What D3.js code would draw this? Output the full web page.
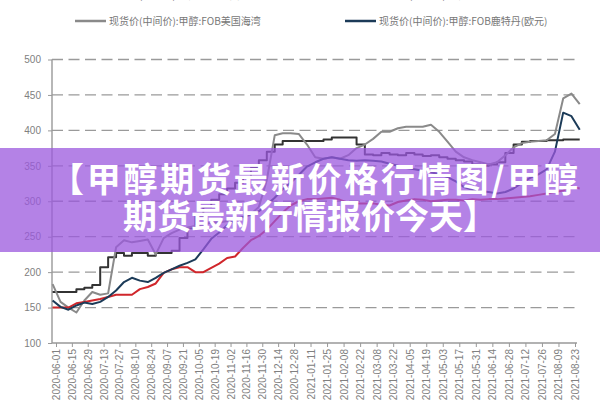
<!DOCTYPE html>
<html><head><meta charset="utf-8">
<script src="https://cdn.jsdelivr.net/npm/d3@7"></script>
<style>html,body{margin:0;padding:0;background:#fff;} svg{display:block;}</style>
</head><body><svg id="c" width="600" height="400"></svg>
<script>
const dates = ["2020-05-29","2020-06-05","2020-06-12","2020-06-19","2020-06-26","2020-07-03","2020-07-10","2020-07-17","2020-07-24","2020-07-31",
"2020-08-07","2020-08-14","2020-08-21","2020-08-28","2020-09-04","2020-09-11","2020-09-18","2020-09-25","2020-10-02","2020-10-09",
"2020-10-16","2020-10-23","2020-10-30","2020-11-06","2020-11-13","2020-11-20","2020-11-27","2020-12-04","2020-12-11","2020-12-18",
"2020-12-25","2021-01-01","2021-01-08","2021-01-15","2021-01-22","2021-01-29","2021-02-05","2021-02-12","2021-02-19","2021-02-26",
"2021-03-05","2021-03-12","2021-03-19","2021-03-26","2021-04-02","2021-04-09","2021-04-16","2021-04-23","2021-04-30","2021-05-07",
"2021-05-14","2021-05-21","2021-05-28","2021-06-04","2021-06-11","2021-06-18","2021-06-25","2021-07-02","2021-07-09","2021-07-16",
"2021-07-23","2021-07-30","2021-08-06","2021-08-13","2021-08-20","2021-08-27"];

const tickLabels = ["2020-06-01","2020-06-15","2020-06-29","2020-07-13","2020-07-27","2020-08-10","2020-08-24","2020-09-07","2020-09-21",
"2020-10-05","2020-10-19","2020-11-02","2020-11-16","2020-11-30","2020-12-14","2020-12-28","2021-01-11","2021-01-25","2021-02-08",
"2021-02-22","2021-03-08","2021-03-22","2021-04-05","2021-04-19","2021-05-03","2021-05-17","2021-05-31","2021-06-14","2021-06-28",
"2021-07-12","2021-07-26","2021-08-09","2021-08-23"];

const yTicks = [100,150,200,250,300,350,400,450,500];

const seriesNames = ["现货价(中间价):甲醇:CFR中国主港","现货价(中间价):甲醇:CFR东南亚","现货价(中间价):甲醇:FOB美国海湾","现货价(中间价):甲醇:FOB鹿特丹(欧元)"];

const blackVals = [172,172,172,176,178,182,207,221,227,223,227,227,223,227,227,230,248,262,280,292,
302,310,318,326,334,347,358,370,380,385,385,385,385,385,387,390,390,390,380,366,
365,368,366,365,368,366,364,365,362,360,358,356,352,350,352,355,368,380,384,385,
385,386,386,387,387,387];

const redVals = [150,150,150,156,158,160,162,165,168,168,168,176,179,184,199,204,207,207,200,200,
206,212,220,222,234,245,251,260,272,284,294,300,303,303,304,305,302,298,297,297,
297,295,294,299,301,303,302,300,301,302,302,301,303,302,303,303,304,305,306,307,
309,311,313,315,321,318];

const grayVals = [183,158,150,143,160,172,168,170,235,245,242,244,246,225,248,255,260,263,265,267,
270,270,272,275,278,282,292,330,393,396,396,395,380,362,360,362,360,365,375,380,
388,398,398,403,405,405,405,408,398,384,370,362,358,355,352,355,365,376,382,384,
385,386,395,445,452,437];

const navyVals = [160,151,147,153,157,155,158,165,174,186,192,188,186,192,199,204,209,213,218,232,
247,256,266,273,278,281,286,295,305,317,326,337,349,355,360,362,360,358,357,358,
357,356,353,350,347,345,343,341,338,334,328,320,316,314,313,311,313,318,326,333,
338,345,370,425,420,401];

const seriesColors = ["#333333","#d0262b","#8a8a8a","#1c3b58"];
const bannerLines = ["【甲醇期货最新价格行情图/甲醇","期货最新行情报价今天】"];

const svg = d3.select("#c");
const parse = d3.timeParse("%Y-%m-%d");
const x = d3.scaleTime()
  .domain([parse("2020-06-01"), parse("2020-12-28"), parse("2021-08-23")])
  .range([56, 294, 575]);
const y = d3.scaleLinear().domain([100, 500]).range([343, 59.5]);
const X0 = 52, X1 = 577;

// grid
svg.append("g").selectAll("line").data(yTicks.filter(d => d > 100)).join("line")
  .attr("x1", X0).attr("x2", X1).attr("y1", d => y(d)).attr("y2", d => y(d))
  .attr("stroke", "#9a9a9a").attr("stroke-width", 1.3).attr("stroke-dasharray", "11,5.5");

// y axis
const ya = svg.append("g").attr("transform", `translate(${X0},0)`)
  .call(d3.axisLeft(y).tickValues(yTicks).tickSize(4).tickPadding(7).tickFormat(d3.format("d")));
ya.select(".domain").remove();
ya.selectAll("line").attr("stroke", "#999");
ya.selectAll("text").attr("font-family", "Liberation Sans, Arial, sans-serif").attr("font-size", 10).attr("fill", "#808080");
svg.append("line").attr("x1", X0).attr("x2", X0).attr("y1", y(500)).attr("y2", y(100))
  .attr("stroke", "#999").attr("stroke-width", 1.4);

// x axis
const xa = svg.append("g").attr("transform", `translate(0,${y(100)})`)
  .call(d3.axisBottom(x).tickValues(tickLabels.map(parse)).tickSize(4).tickFormat(d3.timeFormat("%Y-%m-%d")));
xa.select(".domain").remove();
xa.selectAll("line").attr("stroke", "#999");
xa.selectAll("text").attr("font-family", "Liberation Sans, Arial, sans-serif").attr("font-size", 10).attr("fill", "#808080")
  .attr("transform", "rotate(-90)").attr("text-anchor", "end").attr("x", -6).attr("y", 0).attr("dy", "0.35em");
svg.append("line").attr("x1", X0).attr("x2", X1).attr("y1", y(100)).attr("y2", y(100))
  .attr("stroke", "#999").attr("stroke-width", 1.4);

// lines
const allVals = [blackVals, redVals, grayVals, navyVals];
const curves = [d3.curveStepAfter, d3.curveLinear, d3.curveLinear, d3.curveLinear];
const order = [0, 2, 1, 3];
order.forEach(k => {
  const data = dates.map((d, i) => ({ d: parse(d), v: allVals[k][i] }));
  svg.append("path").datum(data)
    .attr("fill", "none").attr("stroke", seriesColors[k]).attr("stroke-width", 2)
    .attr("stroke-linejoin", "round")
    .attr("d", d3.line().x(p => x(p.d)).y(p => y(p.v)).curve(curves[k]));
});

// legend
const legPos = [[75, -5], [345, -5], [75, 21], [345, 21]];
seriesNames.forEach((n, k) => {
  const [lx, ly] = legPos[k];
  svg.append("line").attr("x1", lx).attr("x2", lx + 31).attr("y1", ly).attr("y2", ly)
    .attr("stroke", seriesColors[k]).attr("stroke-width", 2.5);
  svg.append("text").attr("x", lx + 34).attr("y", ly).attr("dy", "0.35em")
    .attr("font-family", "Noto Sans CJK SC, sans-serif").attr("font-size", 10).attr("fill", "#777").text(n);
});

// banner overlay
svg.append("rect").attr("x", 0).attr("y", 148).attr("width", 600).attr("height", 104)
  .attr("fill", "rgb(155,88,222)").attr("opacity", 0.75);
const bt = svg.append("g");
bt.append("text").attr("x", 314).attr("y", 180).attr("dy", "0.36em")
  .attr("text-anchor", "middle").attr("font-family", "Noto Sans CJK SC, sans-serif")
  .attr("textLength", 528).attr("lengthAdjust", "spacing")
  .attr("font-weight", 700).attr("font-size", 34).attr("fill", "#fff").text(bannerLines[0]);
bt.append("text").attr("x", 310).attr("y", 217).attr("dy", "0.36em")
  .attr("text-anchor", "middle").attr("font-family", "Noto Sans CJK SC, sans-serif")
  .attr("font-weight", 700).attr("font-size", 34).attr("fill", "#fff").text(bannerLines[1]);
</script></body></html>
